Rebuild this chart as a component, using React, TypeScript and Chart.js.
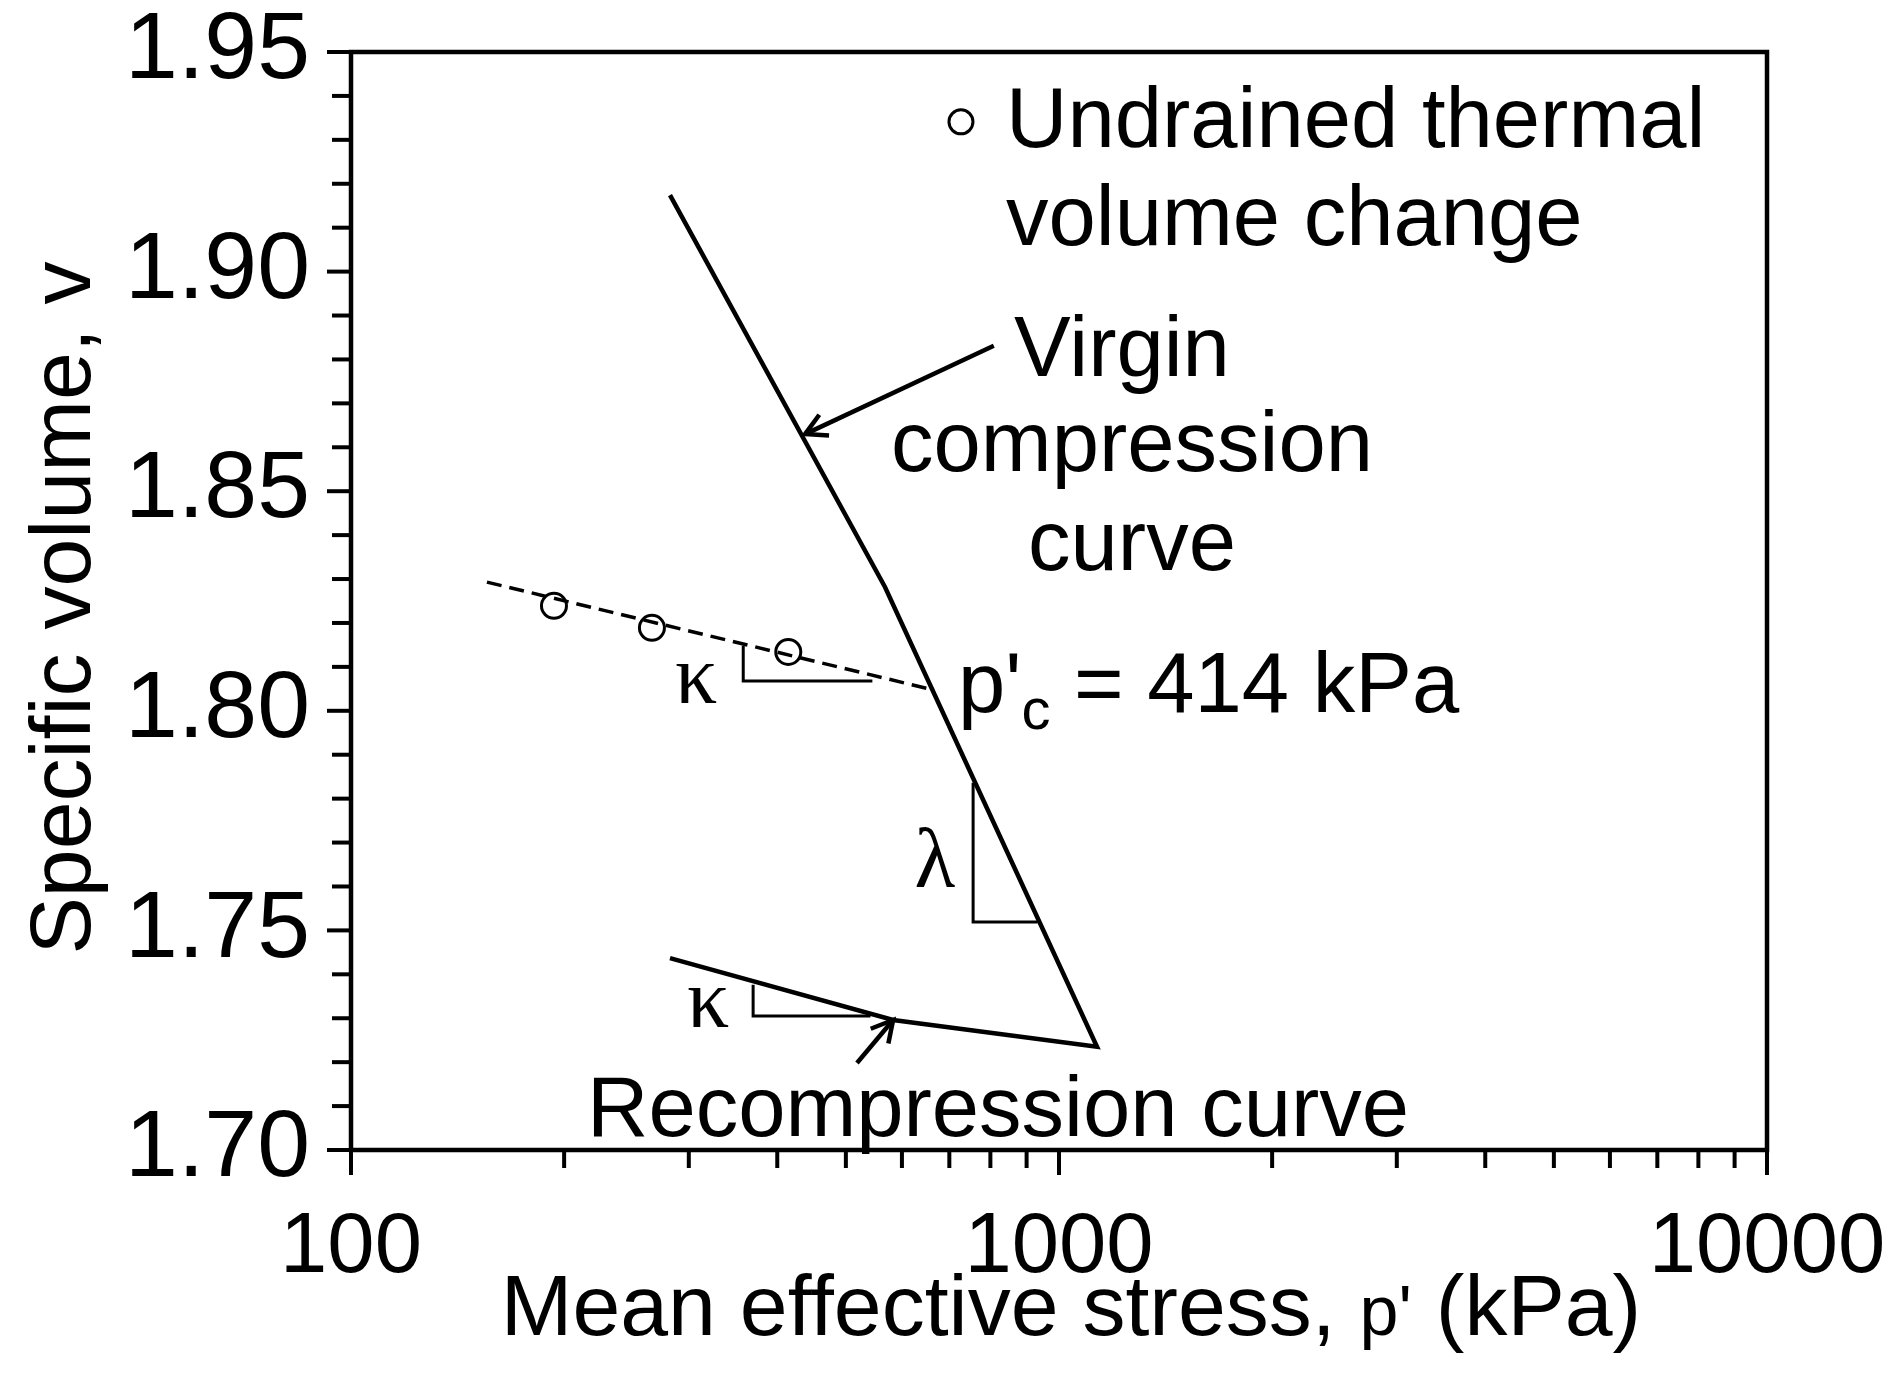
import React, { useEffect, useRef } from 'react';
import { Chart, registerables } from 'chart.js';

Chart.register(...registerables);

// Mean effective stress p' (kPa) and specific volume v for each line.
const virginP = [282.2, 567.8, 1131.6];
const virginV = [1.9174, 1.8282, 1.7235];
const recompP = [583.0, 282.2];
const recompV = [1.7296, 1.7437];
const swellP = [155.6, 666.6];
const swellV = [1.8293, 1.8047];
const thermalP = [193.5, 266.1, 414.6];
const thermalV = [1.8239, 1.8189, 1.8134];

// Slope triangles (kappa on the swelling line, lambda on the VCL, kappa on recompression).
const kappaUpperP = [358.1, 358.1, 545.0];
const kappaUpperV = [1.8148, 1.8068, 1.8068];
const lambdaP = [756.3, 756.3, 932.6];
const lambdaV = [1.7836, 1.7519, 1.7519];
const kappaLowerP = [369.8, 369.8, 541.7];
const kappaLowerV = [1.7376, 1.7305, 1.7305];

// Arrows: [tail, head]
const virginArrowP = [808.9, 437.9];
const virginArrowV = [1.8831, 1.863];
const recompArrowP = [518.4, 583.0];
const recompArrowV = [1.7198, 1.7296];

// Axis ticks
const xTickValues = [100, 200, 300, 400, 500, 600, 700, 800, 900, 1000, 2000, 3000, 4000, 5000, 6000, 7000, 8000, 9000, 10000];
const xTickLabels = [100, 1000, 10000];
const yTickValues: number[] = [];
for (let i = 170; i <= 195; i++) yTickValues.push(i / 100);
const yTickLabels = ['1.70', '1.75', '1.80', '1.85', '1.90', '1.95'];

const SANS = "'Liberation Sans', Arial, sans-serif";
const SERIF = "'Liberation Serif', 'Times New Roman', serif";

const pts = (ps: number[], vs: number[]) => ps.map((p, i) => ({ x: p, y: vs[i] }));

const lineDs = (data: { x: number; y: number }[], width: number, dash: number[] = []) => ({
  data,
  showLine: true,
  borderColor: '#000',
  backgroundColor: '#000',
  borderWidth: width,
  borderDash: dash,
  borderJoinStyle: 'miter' as const,
  borderCapStyle: 'butt' as const,
  pointRadius: 0,
  tension: 0,
  fill: false,
});

const drawArrow = (ctx: CanvasRenderingContext2D, x1: number, y1: number, x2: number, y2: number) => {
  const ang = Math.atan2(y2 - y1, x2 - x1);
  const len = 24;
  const spread = 0.5;
  ctx.beginPath();
  ctx.moveTo(x1, y1);
  ctx.lineTo(x2, y2);
  ctx.stroke();
  ctx.beginPath();
  ctx.moveTo(x2 - len * Math.cos(ang - spread), y2 - len * Math.sin(ang - spread));
  ctx.lineTo(x2, y2);
  ctx.lineTo(x2 - len * Math.cos(ang + spread), y2 - len * Math.sin(ang + spread));
  ctx.stroke();
};

// Keep the plot box fixed: no extra room reserved for overhanging tick labels.
const fixPadding = (s: any) => {
  s.paddingTop = 0;
  s.paddingBottom = 0;
  s.paddingLeft = 0;
  s.paddingRight = 0;
};

const annotations = {
  id: 'annotations',
  afterDatasetsDraw(chart: any) {
    const { ctx, chartArea: a } = chart;
    const xs = chart.scales.x;
    const ys = chart.scales.y;
    const px = (p: number) => xs.getPixelForValue(p);
    const py = (v: number) => ys.getPixelForValue(v);
    ctx.save();
    ctx.strokeStyle = '#000';
    ctx.fillStyle = '#000';

    // Plot frame
    ctx.lineWidth = 4.5;
    ctx.lineCap = 'square';
    ctx.strokeRect(a.left, a.top, a.right - a.left, a.bottom - a.top);

    // Tick marks (outside)
    ctx.lineCap = 'butt';
    ctx.lineWidth = 4;
    ys.ticks.forEach((t: any) => {
      const yy = py(t.value);
      const len = t.label ? 24 : 19;
      ctx.beginPath();
      ctx.moveTo(a.left - len, yy);
      ctx.lineTo(a.left, yy);
      ctx.stroke();
    });
    xs.ticks.forEach((t: any) => {
      const xx = px(t.value);
      const len = t.label ? 25 : 18;
      ctx.beginPath();
      ctx.moveTo(xx, a.bottom);
      ctx.lineTo(xx, a.bottom + len);
      ctx.stroke();
    });

    // Arrows
    ctx.lineWidth = 4.5;
    drawArrow(ctx, px(virginArrowP[0]), py(virginArrowV[0]), px(virginArrowP[1]), py(virginArrowV[1]));
    drawArrow(ctx, px(recompArrowP[0]), py(recompArrowV[0]), px(recompArrowP[1]), py(recompArrowV[1]));

    // Legend entry
    ctx.lineWidth = 3;
    ctx.beginPath();
    ctx.arc(px(727.0), py(1.9341), 12, 0, Math.PI * 2);
    ctx.stroke();

    ctx.textBaseline = 'alphabetic';
    ctx.font = `85px ${SANS}`;
    ctx.textAlign = 'left';
    ctx.fillText('Undrained thermal', px(841.9), py(1.9284));
    ctx.fillText('volume change', px(841.9), py(1.9061));

    ctx.textAlign = 'center';
    ctx.fillText('Virgin', px(1227.4), py(1.8762));
    ctx.fillText('compression', px(1268.0), py(1.8546));
    ctx.fillText('curve', px(1268.0), py(1.8321));
    ctx.fillText('Recompression curve', px(820.1), py(1.7032));

    // p'c label with subscript
    ctx.textAlign = 'left';
    let cx = px(719.8);
    const by = py(1.7997);
    ctx.fillText("p'", cx, by);
    cx += ctx.measureText("p'").width;
    ctx.font = `58px ${SANS}`;
    ctx.fillText('c', cx, by + 17);
    cx += ctx.measureText('c').width;
    ctx.font = `85px ${SANS}`;
    ctx.fillText(' = 414 kPa', cx, by);

    // Slope symbols
    ctx.font = `84px ${SERIF}`;
    ctx.textAlign = 'center';
    ctx.fillText('\u03BA', px(307.2), py(1.8018));
    ctx.fillText('\u03BA', px(319.4), py(1.728));
    ctx.fillText('\u03BB', px(667.9), py(1.7599));

    // Axis titles
    ctx.textAlign = 'left';
    const parts: [string, number][] = [['Mean effective stress, ', 86], ["p'", 70], [' (kPa)', 86]];
    const widths = parts.map(([s, f]) => {
      ctx.font = `${f}px ${SANS}`;
      return ctx.measureText(s).width;
    });
    const total = widths.reduce((s, w) => s + w, 0);
    let tx = (a.left + a.right) / 2 + 12 - total / 2;
    const ty = a.bottom + 185;
    parts.forEach(([s, f], i) => {
      ctx.font = `${f}px ${SANS}`;
      ctx.fillText(s, tx, ty);
      tx += widths[i];
    });

    ctx.save();
    ctx.font = `86px ${SANS}`;
    ctx.translate(a.left - 261, (a.top + a.bottom) / 2 + 7);
    ctx.rotate(-Math.PI / 2);
    ctx.textAlign = 'center';
    ctx.fillText('Specific volume, v', 0, 0);
    ctx.restore();

    ctx.restore();
  },
};

export default function App() {
  const ref = useRef<HTMLCanvasElement>(null);

  useEffect(() => {
    if (!ref.current) return;
    const chart = new Chart(ref.current, {
      type: 'scatter',
      data: {
        datasets: [
          lineDs(pts(virginP.concat(recompP), virginV.concat(recompV)), 4.5),
          lineDs(pts(swellP, swellV), 3.5, [15, 8]),
          {
            data: pts(thermalP, thermalV),
            showLine: false,
            pointStyle: 'circle',
            pointRadius: 12.5,
            borderWidth: 3,
            borderColor: '#000',
            backgroundColor: 'rgba(0,0,0,0)',
          },
          lineDs(pts(kappaUpperP, kappaUpperV), 3),
          lineDs(pts(lambdaP, lambdaV), 3),
          lineDs(pts(kappaLowerP, kappaLowerV), 3),
        ] as any,
      },
      options: {
        animation: false,
        responsive: false,
        maintainAspectRatio: false,
        events: [],
        layout: { padding: { left: 0, top: 52, right: 122, bottom: 0 } },
        plugins: { legend: { display: false }, tooltip: { enabled: false }, title: { display: false } },
        scales: {
          x: {
            type: 'logarithmic',
            min: 100,
            max: 10000,
            grid: { display: false, drawTicks: false },
            border: { display: false },
            afterFit: (s: any) => {
              s.height = 235;
              fixPadding(s);
            },
            afterBuildTicks: (s: any) => {
              s.ticks = xTickValues.map((value) => ({ value }));
            },
            ticks: {
              autoSkip: false,
              maxRotation: 0,
              minRotation: 0,
              padding: 48,
              color: '#000',
              font: { family: SANS, size: 85 },
              callback: (v: any) => (xTickLabels.includes(Number(v)) ? String(v) : ''),
            },
          },
          y: {
            type: 'linear',
            min: 1.7,
            max: 1.95,
            grid: { display: false, drawTicks: false },
            border: { display: false },
            afterFit: (s: any) => {
              s.width = 351;
              fixPadding(s);
            },
            afterBuildTicks: (s: any) => {
              s.ticks = yTickValues.map((value) => ({ value }));
            },
            ticks: {
              autoSkip: false,
              padding: 41,
              color: '#000',
              font: { family: SANS, size: 95 },
              callback: (v: any) => {
                const s = Number(v).toFixed(2);
                return yTickLabels.includes(s) ? s : '';
              },
            },
          },
        },
      },
      plugins: [annotations],
    } as any);
    return () => chart.destroy();
  }, []);

  return (
    <div style={{ position: 'fixed', left: 0, top: 0, width: 1889, height: 1385, background: '#fff' }}>
      <canvas ref={ref} width={1889} height={1385} style={{ display: 'block', width: 1889, height: 1385 }} />
    </div>
  );
}
